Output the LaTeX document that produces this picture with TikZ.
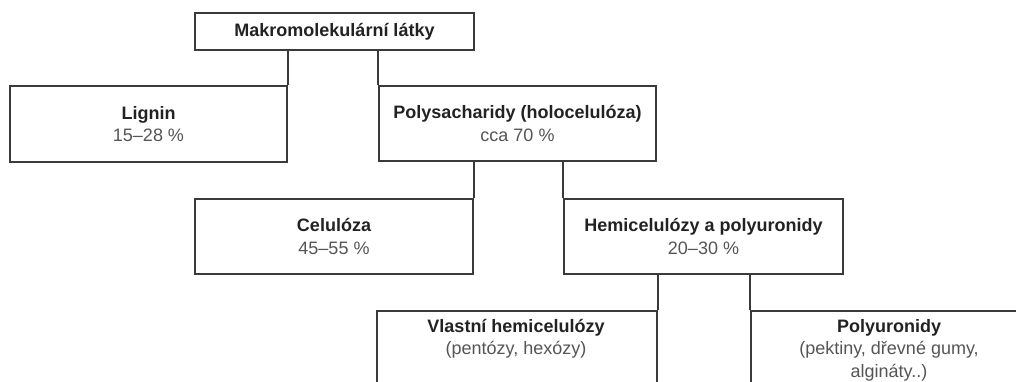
\documentclass[tikz,border=0pt]{standalone}
\usepackage{fontspec}
\setmainfont{Liberation Sans}
\definecolor{boxc}{HTML}{3A3A3A}
\definecolor{tc}{HTML}{222222}
\definecolor{tg}{HTML}{555555}
\begin{document}
\begin{tikzpicture}[x=1pt,y=-1pt,
  box/.style={draw=boxc, line width=2pt, minimum height=75pt, inner sep=0pt,
    align=center, anchor=north west, font=\fontsize{18}{22.5}\selectfont, text=tg},
  conn/.style={draw=boxc, line width=2pt},
  txt/.style={align=center, font=\fontsize{18}{22.5}\selectfont, text=tg, inner sep=0pt}]
\useasboundingbox (0,0) rectangle (1016,382);
\clip (0,0) rectangle (1016,382);
\node[box, minimum width=279pt, minimum height=37pt] (top) at (194,12)
  {\textcolor{tc}{\bfseries Makromolekulární látky}};
\node[box, minimum width=277pt, minimum height=76pt] (lig) at (9,85)
  {\textcolor{tc}{\bfseries Lignin}\\15–28 \%};
\node[box, minimum width=277pt] (pol) at (378,85)
  {\textcolor{tc}{\bfseries Polysacharidy (holocelulóza)}\\cca 70 \%};
\node[box, minimum width=278pt] (cel) at (194,198)
  {\textcolor{tc}{\bfseries Celulóza}\\45–55 \%};
\node[box, minimum width=279pt] (hem) at (563,198)
  {\textcolor{tc}{\bfseries Hemicelulózy a polyuronidy}\\20–30 \%};
\node[box, minimum width=280pt, minimum height=90pt] (vla) at (376,310) {};
\node[txt] (vlat) at (516,339)
  {\textcolor{tc}{\bfseries Vlastní hemicelulózy}\\(pentózy, hexózy)};
\node[box, minimum width=278pt, minimum height=90pt] (pyu) at (750,310) {};
\node[txt] (pyut) at (889,350)
  {\textcolor{tc}{\bfseries Polyuronidy}\\(pektiny, dřevné gumy,\\algináty..)};
\draw[conn] (top.south -| lig.north east) -- (lig.north east);
\draw[conn] (top.south -| pol.north west) -- (pol.north west);
\draw[conn] (pol.south -| cel.north east) -- (cel.north east);
\draw[conn] (pol.south -| hem.north west) -- (hem.north west);
\draw[conn] (hem.south -| vla.north east) -- (vla.north east);
\draw[conn] (hem.south -| pyu.north west) -- (pyu.north west);
\end{tikzpicture}
\end{document}
